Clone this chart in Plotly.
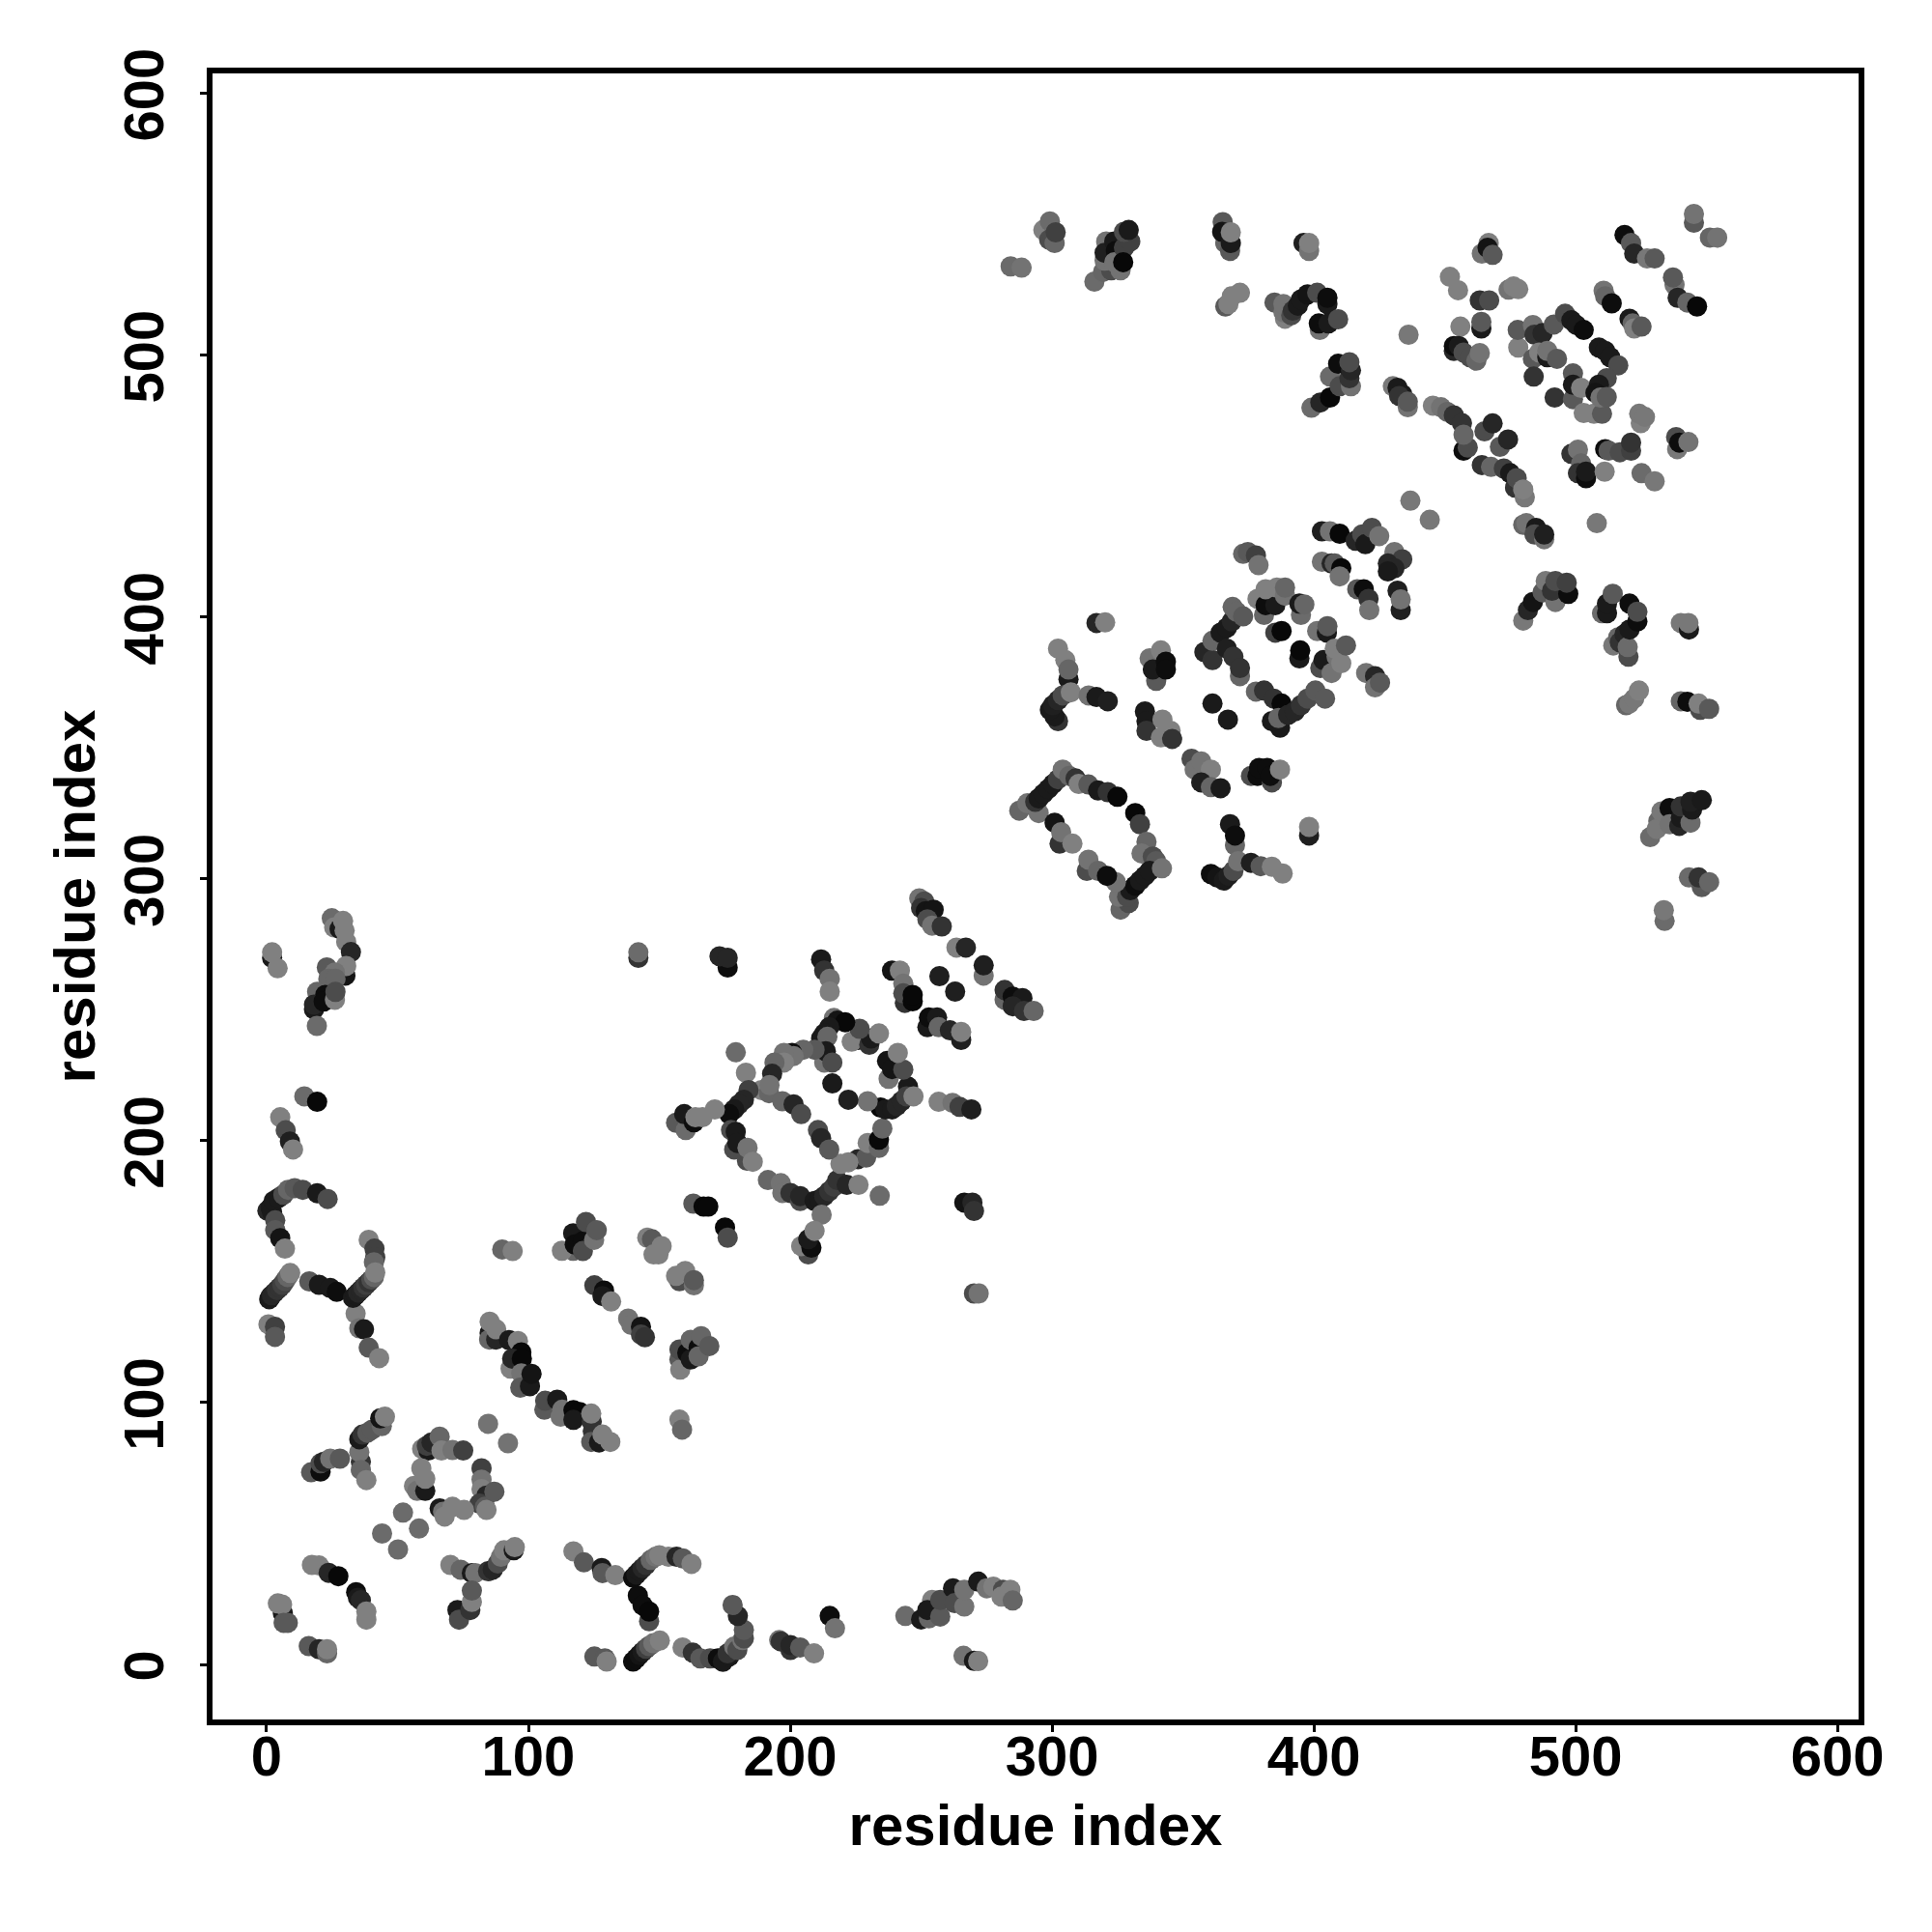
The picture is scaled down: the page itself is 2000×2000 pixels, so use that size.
import plotly.graph_objects as go

# Each row: residue i, residue j, grey level of the dot
block_origin = [
(1,139.5,.1),(1.5,140.5,.1),(2,141,.15),(3,142,.15),(4,143,.2),(5,144,.2),(6,145,.25),(7,146.5,.3),(8,148,.4),(9,149.5,.5),
(16.3,146.3,.35),(20,145,.1),(24.3,143.8,.1),(26.8,142.3,.05),
(34,134,.5),(35.4,128.4,.45),(37.2,128,.1),(39,121,.35),(43,117,.5),
(33,140,.1),(34,141,.1),(35,142,.15),(36,143,.15),(37,144,.2),(38,145,.25),(39,146,.2),(40,147,.3),(41,148,.4),
(39,162.2,.5),(41.2,158.8,.25),(41.5,155.5,.25),(41,153.6,.4),(41.5,149.7,.5),
(.7,129.9,.5),(3.2,129,.25),(3.2,125.1,.35),
(17,73.4,.35),(20.6,73.7,.05),(20.6,76.8,.3),(21.9,77.4,.15),(24.3,78.6,.45),(28,78.6,.35),
(36,77.4,.2),(35.4,81.1,.45),(36,74.3,.4),(38.1,70.4,.5),
(35.4,86,.1),(36.6,87.8,.2),(38.5,88.5,.35),(40.3,89.7,.35),(44,91,.4),(43.4,94,.08),(45.2,94.6,.5),
(59.4,82.3,.5),(61.8,81.7,.1),(61.2,83.5,.25),(63,84.8,.15),(66.1,87,.4),(66.8,81.7,.5),(71,81.9,.45),(75.1,81.7,.25),
(82.1,74.9,.25),(82.1,70.6,.45),(82.1,67,.5),(84,64.5,.15),(81.3,61.4,.25),(83.4,60.2,.35),(84,59,.5),(87,66,.35),
(66.1,59.6,.1),(67.4,58.3,.45),(68,56.5,.5),(71,60.2,.5),(75.4,59,.5),
(59.1,74.9,.5),(56.3,68.2,.5),(57.5,66.3,.45),(60.6,66.3,.1),(60.6,70.9,.5),
(84.6,91.9,.45),(92.2,84.5,.45),(52.1,58,.42),(44.1,50,.42),(58.2,51.9,.42),(50.2,43.9,.42),
(70.2,38,.5),(74.1,36.2,.4),(78.4,34.9,.1),(79.7,34.9,.45),(84.6,35.6,.2),(86.4,36.2,.15),(88.3,38.6,.3),(89.5,41.1,.45),(90.7,43.6,.5),(94.4,43.6,.1),(94.8,44.8,.5),
(72.9,20.8,.1),(73.5,17.1,.3),(77.8,20.8,.2),(78.4,23.9,.5),(78.4,28.2,.35),
(17.3,38,.5),(20,37.8,.5),(23.7,35,.15),(27.4,33.7,.03),(34.2,27.6,.05),(34.9,25.5,.1),(36,24.5,.15),(38.1,17.1,.5),(38.1,20.2,.5),
(6.2,19.6,.1),(4.3,23.3,.5),(5.9,22.9,.5),(6.5,15.9,.35),(8.1,15.9,.35),
(16.1,7,.35),(20,5.8,.15),(23.1,4.2,.4),(23.1,5.8,.5),
]
block_hundred = [
(85.2,126.6,.1),(85,124.1,.4),(85.2,130.9,.5),(87.7,124.1,.15),(87.7,128,.5),(92.6,123.9,.1),(96,123.5,.5),
(93.2,113,.5),(97.3,119.2,.03),(93.8,116.8,.15),(97.5,116.8,.03),(97.3,111.2,.45),(96.9,105.7,.35),(100.6,106.3,.1),(101.2,111,.08),
(106.1,97.3,.35),(106.4,100.7,.3),(111,101.1,.1),(112.9,97.3,.45),(112.3,94.6,.45),(117.2,97.1,.03),(119.6,96.4,.03),(117.2,93.4,.1),(124.2,92.8,.2),(124.6,89.1,.2),(124,85,.35),(127,84.8,.1),(124,95.8,.5),(128.3,87.8,.5),(131.3,85,.5),
(125.2,144.8,.25),(128.9,142.8,.05),(128.3,140.7,.1),(131.6,138.6,.5),
(138.1,132.1,.45),(139.3,129.7,.45),(143,129,.08),(143,126,.25),(144.5,125,.2),
(90,158.5,.4),(94,157.9,.5),
(117.1,158,.4),(112.8,158,.5),(117.1,164.7,.1),(117.7,160.4,.05),(120.8,161.6,.05),(120.8,157.9,.3),(122,169,.3),(125.1,162.2,.45),(126.1,165.9,.35),
(145.4,163,.5),(147.2,162.4,.35),(150.9,159.8,.5),(147.8,156.6,.5),(149.7,156.6,.5),
(157.7,146.4,.3),(156.4,148.4,.5),(159.9,150.3,.5),(163.2,144.8,.45),(163.2,146.8,.35),
(157.7,93.5,.5),(158.7,89.7,.4),
(157.7,116.5,.35),(158,112.6,.5),(157.7,120.3,.3),(160.7,119,.05),(162,116.5,.1),(162,124,.4),(165,121,.05),(165,117.7,.4),(166,125.4,.4),(169.1,121.6,.35),
(163,176,.35),(166.9,174.9,.03),(168.7,174.9,.03),(175.1,166.9,.03),(176.1,163,.3),
(234.2,179,.42),(266.5,176.4,.08),(269.6,176.4,.15),(270.2,173.2,.2),(270.2,141.7,.3),(272,141.7,.45),
]
block_bottom = [
(117.2,43.2,.5),(121.2,39,.35),(128,36.8,.1),(128.3,34.9,.35),(133.2,34.1,.5),
(141.8,26.3,.05),(143.6,22.6,.05),(146.1,16.5,.3),(146.1,20.2,.03),
(140,33.1,.05),(141.2,34.3,.1),(142.4,35.6,.1),(143.6,36.8,.15),(144.9,38,.2),(146.7,39.9,.4),(148.6,41.1,.45),(150,41.7,.5),(153.5,41.1,.5),(156.6,41.1,.15),(159,40.5,.35),(162.3,38.4,.5),
(125.2,3,.35),(129.2,2.3,.35),(129.9,1.1,.5),
(140,1.1,.05),(141.2,2.3,.05),(142.4,3.6,.08),(143.6,4.8,.1),(144.9,6,.25),(146.1,7,.35),(147.7,8.1,.45),(150.2,9.1,.5),
(158.9,6.5,.5),(162.8,4.5,.2),(165.7,2.3,.35),(169.4,2.3,.3),(172.4,2.3,.05),(174.3,1,.1),(176.7,3,.1),(176.1,4.2,.2),(178.6,6.8,.45),(179.8,5.5,.3),(181.7,9.3,.45),(182.3,10,.3),(182.3,13.2,.35),(180,18.5,.15),(178,22.7,.35),
(195.8,9.3,.45),(196.4,8.8,.2),(200.1,5.5,.2),(200.1,7.4,.15),(203.8,6.5,.35),(209.1,4.2,.5),(215.1,18.5,.05),(217.1,13.8,.45),
(244,18.5,.42),(250,17.2,.1),(253,17.6,.4),(254.2,24.6,.5),(252.4,20.8,.1),(257.3,18.3,.35),(257.3,24.6,.3),(262.2,29.1,.1),(262.8,23.4,.3),(266.5,22.1,.45),(266.5,28.5,.45),(271.8,31.6,.1),(275.1,29.1,.45),(277.6,29.7,.5),(281.3,28.5,.3),(284.1,28.5,.5),(280.7,25.9,.5),(285,24.4,.4),
(266.2,3.3,.45),(270.2,1.4,.1),(271.8,1.3,.5),
]
block_left = [
(24.9,285,.42),(25.8,281.5,.5),(27.9,280.9,.1),(29.2,284,.5),(29.8,280.3,.5),(30.4,276,.5),(32.2,272.1,.15),
(2.1,269.9,.1),(2.1,272,.5),(4.2,265.9,.5),
(23,266.2,.35),(30.1,263.1,.08),(30.4,266.8,.5),(26.1,264.3,.45),(23.6,261.9,.4),(26.3,261.9,.4),
(19.3,256.9,.4),(22.4,255.7,.05),(18.1,250.2,.1),(18.1,252,.15),(21.8,253.2,.05),(26.1,253.9,.5),(26.3,256.9,.3),(19.2,243.9,.42),
(14.4,217,.42),(19.3,214.9,.03),(5.2,209,.5),(7.3,204,.3),(8.9,199.7,.12),(10.1,196.7,.5),
(.3,173.3,.15),(1.5,174.5,.1),(2.1,172.7,.1),(2.7,177,.1),(4.6,178.2,.1),(6.4,179.4,.3),(8.2,181.3,.4),(10.7,181.9,.35),(13.8,181.3,.3),(19.3,180,.1),(23.3,177.8,.3),
(3.3,169.6,.3),(3.3,165.9,.35),(5.2,162.8,.08),(7,158.8,.5),
]
block_ring200 = [
(191.5,185,.4),(196.4,183.8,.45),(197,180.1,.45),(200.1,180.1,.2),(203.8,177,.3),(203.8,178.9,.15),
(209.3,177,.1),(211.2,177.6,.1),(213,178.9,.15),(214.9,180.7,.2),(216.7,182.5,.25),(218,185,.2),(221.6,183.2,.15),(226.1,183.2,.5),(212,171.8,.45),
(206.9,156.6,.3),(204.2,159.8,.5),(208.1,159.2,.05),(206.9,162.4,.1),(209.3,165.6,.5),
(225.9,193,.15),(229,193.6,.35),(219.2,191.2,.5),(222.2,191.8,.5),(229.6,199.2,.5),(233.9,197.3,.4),(233.9,200.4,.03),(235.2,204.7,.4),
(234.5,212.7,.03),(236.4,212,.1),(238.9,212,.1),(240.7,213.3,.15),(242.5,215.1,.15),(245,220.7,.1),(244.4,217,.25),(247.1,217,.5),(229.6,215.1,.45),(222.2,215.7,.12),(216.1,221.9,.1),
(237.6,223.7,.45),(237,230.5,.08),(238.9,227.4,.08),(243.2,227.2,.3),(241.1,233.6,.5),
(226,238.5,.1),(223.5,237.9,.5),(230.2,236.7,.2),(230.9,239.1,.1),(226.5,242.8,.3),(233.9,241,.5),
(216.7,246.9,.45),(218,245.9,.08),(221,245.3,.03),(214.9,243.4,.1),(213,241,.1),(211.8,239.1,.1),(214.2,239.7,.4),(213,229.9,.45),(213.6,234.2,.1),(216.1,229.9,.3),(209.3,234.8,.35),
(205,234.8,.4),(200.7,233.6,.05),(201.3,232.4,.45),(197.6,233.6,.45),(197.6,229.9,.5),(194,229.9,.4),(193.1,225.6,.15),
(179.2,233.8,.42),(183.1,226,.5),(189,219.4,.5),(191.9,218.2,.4),(192.1,221.3,.45),
(184.1,219.4,.25),(182.3,215.7,.15),(180.4,213.9,.15),(178.6,212,.1),(176.7,210.2,.05),(171.2,212,.5),
(156.4,206.9,.35),(160.1,204.1,.42),(159.5,210.2,.1),(163.2,207.1,.05),(163.8,209,.5),(166.5,209,.5),
(197,215.1,.4),(201.3,213.9,.15),(204.2,210.2,.3),(210.6,204.1,.3),(211.8,201,.15),(214.9,196.7,.35),
(177.4,204.1,.3),(179.2,203.4,.1),(178.6,196.7,.3),(179.8,199.2,.1),(183.5,192.4,.3),(183.7,197.3,.45),(185.7,192,.5),
(211.8,269.3,.1),(213,265,.2),(215.1,261.9,.45),(215.1,257,.5),
(176.1,266.2,.05),(173,270.5,.15),(176.1,269.9,.15),
(142,269.9,.2),(142,272,.42),
(238.9,265,.08),(241.9,265,.5),(243.2,260,.45),(243.8,252.7,.2),(243.2,256.3,.3),(246.8,253.3,.03),(246.8,255.7,.03),
(257,262.9,.12),(263,257,.12),(263.5,273.8,.5),(267.1,273.8,.15),(273.9,263.1,.45),(273.9,267,.12),
(252.4,243.4,.1),(253,247.1,.05),(256.1,247.1,.1),(256.7,243.4,.4),(261,242.2,.15),(265.3,238.5,.12),(265.3,241.6,.5),
(249.3,292.6,.45),(251.2,291.4,.3),(250,288.9,.2),(251.8,287.7,.08),(254.8,288.3,.08),(252.4,284.6,.3),(254.2,282.2,.45),(257.9,281.9,.2),
(281.9,253.9,.4),(281.9,257.6,.2),(285,255.1,.05),(288.7,254.5,.1),(285,251.4,.15),(289.3,249.6,.2),(293,249.6,.4),
(256.7,214.9,.5),(262,214.5,.45),(264.7,213,.25),(269.2,212,.12),
]
block_ring330 = [
(287.5,326.1,.4),(290.6,328.9,.45),(294.9,325.2,.45),(293.6,329.5,.2),(294.9,330.8,.1),(296.7,332.6,.1),(298.6,334.4,.1),(300.4,336.3,.1),(302.3,338.1,.25),(304.1,341.8,.45),(306.6,339.4,.4),(309,338.4,.2),(310.2,336.3,.5),(313.9,336.1,.35),(317.6,333.8,.1),(321.3,333.2,.2),(325,331.4,.03),
(331.8,325.2,.03),(333.6,320.9,.25),(336.1,314.2,.4),(334.2,309.8,.45),(338.5,308.6,.3),(339.8,306.8,.35),
(326.2,288.3,.4),(329.3,290.8,.3),(325.6,293.2,.45),(328.7,293.2,.3),(329.9,295.7,.1),(331.8,297.5,.05),(333.6,299.4,.1),(335.5,301.2,.1),(337.3,303.1,.1),(342,304.1,.45),(324.4,298.8,.45),
(313.3,303.1,.3),(313.9,307.4,.45),(317.6,303.1,.4),(321,301.2,.05),
(301,321.5,.08),(302.9,313.5,.2),(303.5,317.9,.45),(307.8,313.5,.5),
(360.7,301.9,.05),(363.1,300.6,.08),(365.6,299.4,.1),(367.4,301.2,.12),(369.3,303.1,.3),(368,320.9,.1),(369.9,312.9,.4),(369.9,316.6,.05),(371.1,306.8,.45),(376,306.2,.12),(379.7,304.9,.35),(384,304.7,.5),(388.1,302.1,.5),
(398.2,316.6,.12),(398.2,319.9,.5),
]
block_mid350 = [
(337.3,384.3,.45),(339.8,375.7,.35),(338.5,380,.1),(341.6,387.3,.5),(343.5,383,.05),(343.5,380,.05),
(335.5,364,.1),(336.1,360.3,.1),(336.1,356.6,.2),(341.6,354.1,.5),(342.2,360.9,.5),(345.3,356.6,.5),(345.9,353.5,.2),
(353.3,345.9,.3),(354.5,341.8,.45),(357,344.9,.45),(360.7,341.8,.5),(357,336.9,.12),(360.7,335.1,.4),(364.4,334.7,.1),
(376,339.4,.3),(378.5,339.4,.05),(379.1,342.4,.05),(382.2,342.4,.05),(384,336.9,.3),(383.4,339.4,.05),(387.1,341.8,.5),
(361.3,367,.1),(367.2,360.9,.1),
(302.3,388,.5),(305.1,383.6,.5),(306.3,376.3,.1),(306.3,380,.4),
(302.3,360.3,.2),(301,362.1,.1),(299.2,364.6,.1),(300.4,366.4,.12),(302.3,368.3,.15),(304.1,370.1,.3),(307.2,371.3,.5),(314,370.1,.45),(317,369.5,.1),(321.3,367.9,.12),
(317,397.8,.15),(320.3,398,.5),
]
block_ring400 = [
(358.2,386.7,.15),(361.3,383.6,.2),(361.3,391,.4),(364.4,394.1,.1),(366.8,396,.1),(368.7,398.4,.15),(369,403.9,.4),(370.5,402.1,.4),(373,400.3,.35),
(366.8,388,.12),(369.3,384.9,.2),(371.8,377.5,.4),(371.8,380.6,.2),
(377.9,371.6,.4),(381,372,.2),(384.7,368.9,.2),(387.7,367,.03),(384,360.3,.1),(387.1,357.8,.1),(386.5,361.5,.4),(390.2,362.7,.15),(392.7,364,.15),(395.1,366.4,.2),(397.6,368.9,.3),(400.6,372,.35),(404.3,368.9,.35),
(378.5,407,.5),(381,400.9,.4),(381.6,404.6,.05),(385.3,404.6,.1),(381.6,410.7,.5),(385.9,411.3,.5),(389,408.2,.45),(389,411.3,.4),
(385.3,394.1,.25),(387.7,394.7,.03),(395.1,400.9,.42),(394.5,405.2,.1),(396.4,404.9,.4),
(394.5,384.3,.1),(394.8,387.3,.03),(401.3,394.7,.45),(405,394.1,.1),(405.2,396.6,.35),
(402.5,380.6,.3),(403.7,383.6,.1),(406.8,378.7,.45),(408.7,384.9,.45),(410.5,382.4,.5),(408,388,.5),(412.3,389.2,.35),
(420,378.7,.45),(423.4,377.5,.15),(423.4,373.2,.45),(425.3,375,.35),
(373,424.2,.4),(374.8,424.9,.35),(377.9,423.6,.25),(378.9,419.9,.45),
(403.1,432.8,.12),(406.2,432.8,.45),(409.9,431.9,.03),(416,429.2,.15),(418.5,431.6,.3),(419.7,427.9,.1),(422.2,434.1,.3),(425,431,.45),
(403.1,421.2,.45),(406.8,420.5,.15),(408,420.5,.35),(410.5,418.7,.03),(409.9,415.6,.45),
(430.8,424.9,.45),(433.8,422.1,.25),(428.3,420.5,.15),(430.8,418.7,.15),(428.3,417.5,.1),
(432,410.1,.12),(433.2,402.7,.12),(433.2,406.8,.45),
(416.6,410.7,.35),(419.1,410.7,.05),(420.9,407,.2),(421.2,402.7,.45),
]
block_top = [
(284.2,534,.42),(288.4,533.5,.45),
(296.7,547.9,.5),(299.2,551.2,.42),(298.9,544.2,.3),(301,542.9,.4),(301.4,547,.25),
(316.2,528.2,.42),(319.5,531.9,.4),(322.6,532.5,.3),(326.2,532.5,.45),(320.1,536.2,.45),(320.7,543.5,.45),(320.1,539.2,.12),(323.8,543.5,.1),(324.4,539.9,.05),(323.8,535.6,.45),(327.5,541.1,.25),(329.9,543.5,.25),(327.2,535.6,.03),(327.5,547.2,.3),(329.3,547.9,.1),
(366.2,542.9,.4),(368,539.9,.35),(365.2,550.9,.35),(365,547.2,.08),(368.3,542.9,.1),(368.3,547,.5),
(396.1,542.9,.12),(398.2,539.9,.45),(398.2,542.9,.5),
(366.2,518.7,.35),(367.4,519.6,.5),(368.7,522.6,.5),(371.8,523.9,.5),
(385,520.2,.35),(389,514,.5),(388.4,516.5,.45),(388.4,519.6,.45),(391.4,515.3,.3),(392,517.1,.2),(393.9,519,.1),(395.1,521.4,.1),(397.6,523.3,.08),(401.3,523.9,.3),(405.2,519.6,.1),(405.2,522,.05),
(402.3,509.7,.45),(401.9,512.2,.05),(405.6,512.2,.1),(409.3,513.8,.3),
(399.1,480,.42),(402.5,482,.15),(406.2,483.9,.03),(406.2,491.9,.42),(409.9,488.2,.3),(414.2,488.2,.45),(413.6,491.3,.2),(409.3,496.8,.05),(414.2,494.3,.15),(413.6,497.4,.3),
]
block_upper_right = [
(464.2,538.9,.45),(466.8,542.9,.5),(466.4,541.1,.08),(468.3,538.4,.35),(452,530,.5),(455.1,524.9,.5),
(474.4,525.1,.45),(476.3,526.3,.5),(478.1,525.3,.5),
(463.4,521,.2),(467,521,.3),(464,510.3,.1),(464,512.8,.35),(456,511,.5),
(453.5,501.7,.15),(453.5,503.6,.05),(455.4,503.6,.1),(457.2,501.1,.3),(459.7,499.3,.3),(462.1,498,.4),(463.4,500.9,.45),
(436.2,507.9,.47),
(478.1,503,.5),(477.9,509.7,.35),(483.7,511.6,.45),(484.3,507.9,.2),(483.7,498.7,.35),(484,491.9,.2),(487.4,508.5,.15),(491.7,511.8,.35),(496,515.9,.3),(498.4,513.4,.1),(500.3,511.6,.1),(503.1,509.7,.05),
(486.1,501.1,.5),(489.2,499.3,.1),(489.2,501.7,.45),(492.9,498.7,.35),
(492,483.9,.2),(499,493.1,.35),(499,483.3,.35),(499,488.8,.1),(502.1,487.6,.5),(503.1,478,.5),(507,477.7,.5),(510.1,477.7,.35),
(508.9,503,.1),(511.3,501.7,.1),(513.2,499.3,.1),(516.3,496.2,.3),(511.9,491.3,.3),(508.9,488.8,.1),(507.6,485.7,.08),(509.5,483.9,.45),(511.9,484.1,.35),
(510.7,524.7,.45),(511.3,522.6,.4),(513.8,519.9,.05),
(520.6,514,.1),(521.8,512.2,.4),(522.4,510.3,.5),(525.2,511,.35),
(518.7,546,.05),(521.2,542.9,.35),(522.4,538.9,.15),(527.3,537,.47),(530.2,537,.35),
(537.8,527,.45),(537.2,529.8,.35),(539,522,.15),(542.7,520.2,.4),(546.4,518.7,.03),
(545.2,550.7,.35),(545.2,554,.45),(551.3,545,.4),(554.1,545,.45),
(445.5,480.8,.5),(448.6,480.2,.45),(451,478.4,.4),(453.5,477.1,.2),(456.6,474.1,.2),(457.2,463.6,.05),(458.8,464.8,.3),(457.2,469.7,.4),
(465.2,471,.3),(468.3,474,.15),(471.1,465.1,.35),(474.2,467.9,.15),
(464.2,458.1,.2),(467.7,457.4,.4),(472.6,456.8,.25),(475,455,.1),(476.9,449.5,.2),(477.5,453.1,.3),(480.6,445.8,.47),(480,448.8,.5),
(430.2,488.2,.47),(432,487.6,.1),(433.8,485.1,.1),(432.6,484.5,.2),(435.9,480.2,.45),(435.9,482.3,.35),
(436.9,444.5,.47),(444.3,437.2,.47),
(480,435.3,.4),(481.2,435.9,.45),(484.9,434.1,.1),(484.3,431.6,.3),(488,429.8,.45),(488,431.6,.12),
(508.1,435.9,.47),
(498.4,462.4,.2),(500.9,464,.45),(502.1,458.7,.4),(500.9,455,.2),(504,453.1,.05),(504,455.6,.1),
(511.1,455.6,.5),(511.3,464.2,.05),(512.6,463.6,.35),(516.9,463,.3),(521.2,463.6,.25),(521.2,466.7,.2),
(525.2,455,.42),(530.2,451.9,.47),
(524.9,474.1,.5),(524.3,477.7,.47),(526.5,476.5,.47),
(538.8,464.2,.47),(538.4,468.8,.3),(539.6,466.7,.05),(543.1,466.9,.45),
]
block_right = [
(480,398.7,.47),(481.8,402.7,.15),(483.7,405.8,.08),(487.4,409.5,.35),(492.3,405.8,.45),(488.6,413.8,.47),(491,410.1,.2),(497.2,408.9,.05),(492.3,413.8,.3),(496.6,413.2,.25),
(510.1,401.5,.42),(512,401.5,.1),(512,405.2,.1),(514.2,408.9,.35),
(514.4,389.2,.47),(516.3,392.3,.4),(516.9,390.4,.2),(518.7,393.5,.15),(520.2,384.9,.3),(519.9,388.6,.42),(520.6,395.3,.1),(523.6,398.4,.05),(520.6,405.2,.05),(523.6,402.1,.3),
(540.2,397.8,.47),(543.3,395.3,.1),(543.1,397.8,.47),
(519.3,366.4,.4),(520.5,367,.47),(522.4,368.9,.47),(524.2,372,.5),
(540.2,367.9,.4),(542.7,367.7,.05),(547.6,364.6,.3),(547,367,.5),(551,365,.35),
(528.5,316,.42),(531.6,322.1,.4),(531,319.1,.47),(532.8,325.8,.47),(535.9,327.1,.05),(535.9,320.9,.45),(539.6,320.3,.15),(540.2,323.4,.1),(540.2,327.7,.2),(543.9,321.5,.42),(544.5,326.5,.1),(543.9,329.5,.12),(548.2,330.1,.1),
(543.3,300.6,.42),(548.2,296.9,.35),(547,300.6,.2),(551,298.8,.4),
(534,284,.42),(533.7,288.1,.47),
]

tick_values = [0, 100, 200, 300, 400, 500, 600]
axis_label = "residue index"

rows = (block_origin + block_hundred + block_bottom + block_left + block_ring200
        + block_ring330 + block_mid350 + block_ring400 + block_top + block_upper_right + block_right)
xs = [r[0] for r in rows]
ys = [r[1] for r in rows]
colors = ["rgb({0},{0},{0})".format(round(r[2] * 255)) for r in rows]

fig = go.Figure(go.Scatter(x=xs, y=ys, mode="markers", showlegend=False,
                           marker=dict(size=21, color=colors, line=dict(width=0))))
tick_font = dict(family="Liberation Sans", size=58, color="black", weight="bold")
title_font = dict(family="Liberation Sans", size=60, color="black", weight="bold")
axis = dict(tickmode="array", tickvals=tick_values, ticks="outside", ticklen=7, tickwidth=3,
            tickcolor="black", showline=True, linecolor="black", linewidth=6, mirror=True,
            showgrid=False, zeroline=False, tickfont=tick_font, title=dict(text=axis_label, font=title_font))
fig.update_layout(width=2000, height=2000, paper_bgcolor="white", plot_bgcolor="white",
                  margin=dict(l=212, r=84, t=68, b=228, autoexpand=False),
                  xaxis=dict(axis, range=[-20.66, 608.1], ticklabelstandoff=-25),
                  yaxis=dict(axis, range=[-21.03, 607.7], tickangle=-90, ticklabelstandoff=15, ticklabelshift=10))
fig.update_xaxes(title_standoff=21)
fig.update_yaxes(title_standoff=0)
fig.write_html("out.html")
